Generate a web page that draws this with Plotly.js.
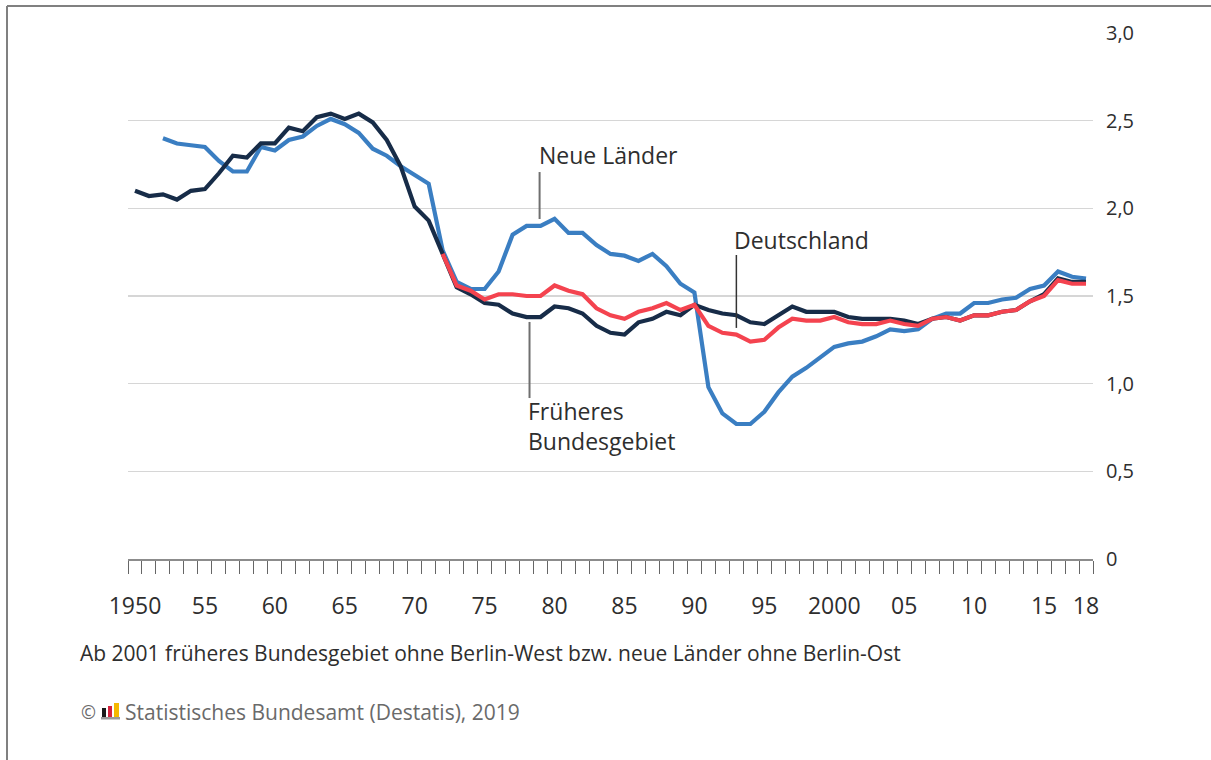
<!DOCTYPE html>
<html>
<head>
<meta charset="utf-8">
<script src="https://cdn.plot.ly/plotly-3.0.1.min.js"></script>
<style>
  html, body { margin: 0; padding: 0; background: #ffffff; }
  #chart { width: 1211px; height: 760px; }
</style>
</head>
<body>
<div id="chart"></div>
<script>
// ---- Data (zusammengefasste Geburtenziffer) ----
const yearsWest = [1950,1951,1952,1953,1954,1955,1956,1957,1958,1959,1960,1961,1962,1963,1964,1965,1966,1967,1968,1969,1970,1971,1972,1973,1974,1975,1976,1977,1978,1979,1980,1981,1982,1983,1984,1985,1986,1987,1988,1989,1990,1991,1992,1993,1994,1995,1996,1997,1998,1999,2000,2001,2002,2003,2004,2005,2006,2007,2008,2009,2010,2011,2012,2013,2014,2015,2016,2017,2018];
const fruheresBundesgebiet = [2.10,2.07,2.08,2.05,2.10,2.11,2.20,2.30,2.29,2.37,2.37,2.46,2.44,2.52,2.54,2.51,2.54,2.49,2.39,2.24,2.01,1.93,1.74,1.55,1.51,1.46,1.45,1.40,1.38,1.38,1.44,1.43,1.40,1.33,1.29,1.28,1.35,1.37,1.41,1.39,1.45,1.42,1.40,1.39,1.35,1.34,1.39,1.44,1.41,1.41,1.41,1.38,1.37,1.37,1.37,1.36,1.34,1.37,1.38,1.36,1.39,1.39,1.41,1.42,1.47,1.51,1.60,1.58,1.58];

const yearsEast = [1952,1953,1954,1955,1956,1957,1958,1959,1960,1961,1962,1963,1964,1965,1966,1967,1968,1969,1970,1971,1972,1973,1974,1975,1976,1977,1978,1979,1980,1981,1982,1983,1984,1985,1986,1987,1988,1989,1990,1991,1992,1993,1994,1995,1996,1997,1998,1999,2000,2001,2002,2003,2004,2005,2006,2007,2008,2009,2010,2011,2012,2013,2014,2015,2016,2017,2018];
const neueLaender = [2.40,2.37,2.36,2.35,2.27,2.21,2.21,2.35,2.33,2.39,2.41,2.47,2.51,2.48,2.43,2.34,2.30,2.24,2.19,2.14,1.76,1.58,1.54,1.54,1.64,1.85,1.90,1.90,1.94,1.86,1.86,1.79,1.74,1.73,1.70,1.74,1.67,1.57,1.52,0.98,0.83,0.77,0.77,0.84,0.95,1.04,1.09,1.15,1.21,1.23,1.24,1.27,1.31,1.30,1.31,1.37,1.40,1.40,1.46,1.46,1.48,1.49,1.54,1.56,1.64,1.61,1.60];

const yearsDE = [1972,1973,1974,1975,1976,1977,1978,1979,1980,1981,1982,1983,1984,1985,1986,1987,1988,1989,1990,1991,1992,1993,1994,1995,1996,1997,1998,1999,2000,2001,2002,2003,2004,2005,2006,2007,2008,2009,2010,2011,2012,2013,2014,2015,2016,2017,2018];
const deutschland = [1.74,1.56,1.53,1.48,1.51,1.51,1.50,1.50,1.56,1.53,1.51,1.43,1.39,1.37,1.41,1.43,1.46,1.42,1.45,1.33,1.29,1.28,1.24,1.25,1.32,1.37,1.36,1.36,1.38,1.35,1.34,1.34,1.36,1.34,1.33,1.37,1.38,1.36,1.39,1.39,1.41,1.42,1.47,1.50,1.59,1.57,1.57];

const xTickVals = [1950,1955,1960,1965,1970,1975,1980,1985,1990,1995,2000,2005,2010,2015,2018];
const xTickText = ["1950","55","60","65","70","75","80","85","90","95","2000","05","10","15","18"];
const yTickVals = [0,0.5,1,1.5,2,2.5,3];
const yTickText = ["0","0,5","1,0","1,5","2,0","2,5","3,0"];

// year boundary ticks
const boundaryTicks = [];
for (let y = 1949.5; y <= 2018.5; y += 1) boundaryTicks.push(y);

const COL_EAST = '#3a7ec2';
const COL_WEST = '#172c48';
const COL_DE = '#f4434f';

const FONT = 'Open Sans, Noto Sans, sans-serif';
const TXT = '#2e2e2e';

const traces = [
  {x: yearsEast, y: neueLaender, type: 'scatter', mode: 'lines', line: {color: COL_EAST, width: 4.2}, name: 'Neue Länder'},
  {x: yearsWest, y: fruheresBundesgebiet, type: 'scatter', mode: 'lines', line: {color: COL_WEST, width: 4.2}, name: 'Früheres Bundesgebiet'},
  {x: yearsDE, y: deutschland, type: 'scatter', mode: 'lines', line: {color: COL_DE, width: 4.2}, name: 'Deutschland'},
  // invisible trace to activate the label axis
  {x: [1950], y: [0], xaxis: 'x2', type: 'scatter', mode: 'markers', marker: {opacity: 0}, hoverinfo: 'skip', showlegend: false}
];

// pixel helpers for paper coords (plot area: x 128..1093, y 33..559)
const L = 128, R = 1093, T = 33, B = 559;
const px = v => (v - L) / (R - L);
const py = v => (B - v) / (B - T);

const layout = {
  width: 1211, height: 760,
  margin: {l: L, r: 1211 - R, t: T, b: 760 - B},
  paper_bgcolor: '#ffffff', plot_bgcolor: '#ffffff',
  showlegend: false,
  hovermode: false,
  font: {family: FONT, color: TXT, size: 20},
  xaxis: {
    range: [1949.5, 2018.5],
    tickmode: 'array', tickvals: boundaryTicks,
    showticklabels: false,
    ticks: 'outside', ticklen: 13, tickwidth: 1, tickcolor: '#666666',
    showgrid: false, zeroline: false,
    showline: true, linecolor: '#8c8c8c', linewidth: 2,
    fixedrange: true
  },
  xaxis2: {
    range: [1949.5, 2018.5],
    overlaying: 'x', anchor: 'y', side: 'bottom',
    tickmode: 'array', tickvals: xTickVals, ticktext: xTickText,
    ticks: 'outside', ticklen: 26, tickcolor: 'rgba(0,0,0,0)',
    tickfont: {family: FONT, size: 23, color: TXT},
    showgrid: false, zeroline: false, showline: false,
    fixedrange: true
  },
  yaxis: {
    range: [0, 3],
    side: 'right',
    tickmode: 'array', tickvals: yTickVals, ticktext: yTickText,
    ticks: 'outside', ticklen: 8, tickcolor: 'rgba(0,0,0,0)',
    tickfont: {family: FONT, size: 20, color: TXT},
    showgrid: true, gridcolor: '#d6d6d6', gridwidth: 1.5,
    zeroline: false, showline: false,
    fixedrange: true
  },
  shapes: [
    // pointer lines
    {type: 'line', xref: 'x', yref: 'y', x0: 1978.93, x1: 1978.93, y0: 2.207, y1: 1.939, line: {color: '#6f6f6f', width: 2}},
    {type: 'line', xref: 'x', yref: 'y', x0: 1993.0, x1: 1993.0, y0: 1.734, y1: 1.318, line: {color: '#333333', width: 1.5}},
    {type: 'line', xref: 'x', yref: 'y', x0: 1978.21, x1: 1978.21, y0: 1.352, y1: 0.918, line: {color: '#6f6f6f', width: 2}},
    // frame
    {type: 'line', xref: 'paper', yref: 'paper', x0: px(7), x1: px(1211), y0: py(6), y1: py(6), line: {color: '#808080', width: 2}},
    {type: 'line', xref: 'paper', yref: 'paper', x0: px(7), x1: px(7), y0: py(6), y1: py(760), line: {color: '#808080', width: 2}},
    // Destatis logo bars
    {type: 'rect', xref: 'paper', yref: 'paper', x0: px(102), x1: px(106), y0: py(717), y1: py(708), line: {width: 0}, fillcolor: '#1a1a1a'},
    {type: 'rect', xref: 'paper', yref: 'paper', x0: px(108), x1: px(112), y0: py(717), y1: py(706), line: {width: 0}, fillcolor: '#d4213d'},
    {type: 'rect', xref: 'paper', yref: 'paper', x0: px(114), x1: px(119), y0: py(717), y1: py(703), line: {width: 0}, fillcolor: '#f5b800'},
    {type: 'rect', xref: 'paper', yref: 'paper', x0: px(101), x1: px(120), y0: py(719.5), y1: py(717), line: {width: 0}, fillcolor: '#9a9a9a'}
  ],
  annotations: [
    {x: 1978.71, y: 2.304, xref: 'x', yref: 'y', text: 'Neue Länder', showarrow: false, xanchor: 'left', yanchor: 'middle', font: {family: FONT, size: 23, color: TXT}},
    {x: 1992.71, y: 1.819, xref: 'x', yref: 'y', text: 'Deutschland', showarrow: false, xanchor: 'left', yanchor: 'middle', font: {family: FONT, size: 23, color: TXT}},
    {x: 1977.93, y: 0.756, xref: 'x', yref: 'y', text: 'Früheres<br>Bundesgebiet', showarrow: false, xanchor: 'left', yanchor: 'middle', align: 'left', font: {family: FONT, size: 23, color: TXT}},
    {x: px(78), y: py(653), xref: 'paper', yref: 'paper', text: 'Ab 2001 früheres Bundesgebiet ohne Berlin-West bzw. neue Länder ohne Berlin-Ost', showarrow: false, xanchor: 'left', yanchor: 'middle', font: {family: FONT, size: 21, color: TXT}},
    {x: px(79), y: py(712), xref: 'paper', yref: 'paper', text: '©', showarrow: false, xanchor: 'left', yanchor: 'middle', font: {family: FONT, size: 18, color: '#6a6a6a'}},
    {x: px(123), y: py(712), xref: 'paper', yref: 'paper', text: 'Statistisches Bundesamt (Destatis), 2019', showarrow: false, xanchor: 'left', yanchor: 'middle', font: {family: FONT, size: 21, color: '#6a6a6a'}}
  ]
};

Plotly.newPlot('chart', traces, layout, {displayModeBar: false, staticPlot: true});
</script>
</body>
</html>
